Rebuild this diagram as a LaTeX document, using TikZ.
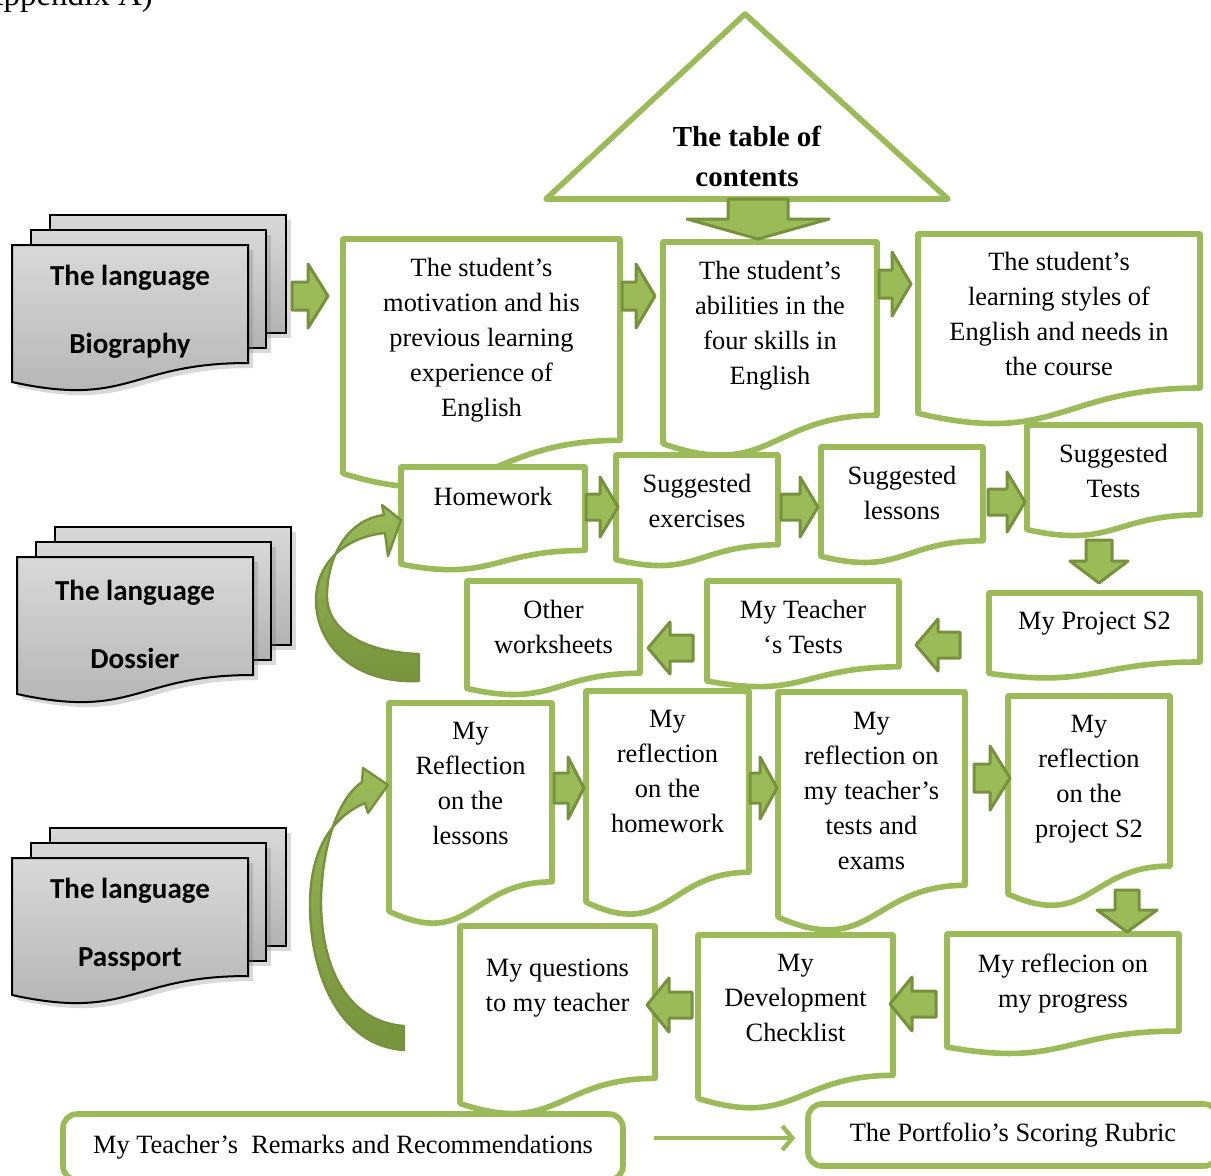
\documentclass[tikz,border=0pt]{standalone}
\usepackage{fontspec}
\setmainfont{Liberation Serif}
\newfontfamily\calibri{Carlito}
\usetikzlibrary{shadows,arrows.meta}
\definecolor{Olivegreen}{RGB}{155,187,89}
\definecolor{Darkolive}{RGB}{118,146,60}

\tikzset{
  docline/.style={draw=Olivegreen, line width=2.8pt, line join=round, fill=white},
  doctext/.style={font=\fontsize{13.2}{17.5}\selectfont, align=center, inner sep=0pt},
  roundbox/.style={draw=Olivegreen, line width=2.8pt, rounded corners=7pt, fill=white, inner sep=0pt, font=\fontsize{13.2}{17.5}\selectfont},
  page/.style={draw=black, line width=1pt, top color=black!15, bottom color=black!30, drop shadow={shadow xshift=2.5pt, shadow yshift=-2.5pt, opacity=.3}},
  pagetext/.style={font=\calibri\bfseries\fontsize{14.5}{34}\selectfont, align=center},
  bandarrow/.style={draw=Darkolive, line width=1.2pt, line join=round, top color=Olivegreen, bottom color=Darkolive},
  thinarrow/.style={draw=Olivegreen, line width=2.2pt, -{Straight Barb[length=5pt,width=12pt]}},
  pics/fatarrow/.style n args={4}{code={
    \draw[draw=Darkolive, fill=Olivegreen, line width=1.5pt, line join=round]
      (0,-#2) -- ({#1-#4},-#2) -- ({#1-#4},-#3) -- (#1,0) -- ({#1-#4},#3) -- ({#1-#4},#2) -- (0,#2) -- cycle;
  }},
}

% green page: name, left, top, right, height, first line, text
\newcommand{\docbox}[7]{%
  \draw[docline] (#2,#3) -- (#4,#3) -- (#4,{#3+0.802*#5})
    .. controls ({(#2+#4)/2},{#3+0.802*#5}) and ({(#2+#4)/2},{#3+1.107*#5}) .. (#2,{#3+0.934*#5}) -- cycle;
  \node[doctext, anchor=north] (#1) at ({(#2+#4)/2},{#6-10}) {#7};
}

% grey stack of three pages: name, left, top of front page, text
\newcommand{\pagestack}[4]{%
  \draw[page] ({#2+38},{#3-30}) rectangle ({#2+274},{#3+88});
  \draw[page] ({#2+19},{#3-15}) rectangle ({#2+254},{#3+103});
  \draw[page] (#2,#3) -- ({#2+236},#3) -- ({#2+236},{#3+118})
    .. controls ({#2+118},{#3+118}) and ({#2+118},{#3+163}) .. (#2,{#3+137}) -- cycle;
  \node[pagetext] (#1) at ({#2+118},{#3+67}) {The language\\#4};
}

\begin{document}
\begin{tikzpicture}[x=0.5pt, y=-0.5pt]
  \useasboundingbox (0,0) rectangle (1211,1175);
  \clip (0,0) rectangle (1211,1175);

  \node[font=\fontsize{16.5}{20}\selectfont, anchor=base east] (appx) at (160,5) {Appendix A)};

  % table of contents
  \draw[docline] (745,14) -- (948,199) -- (546,199) -- cycle;
  \node[font=\bfseries\fontsize{14.5}{20}\selectfont, align=center] (toc) at (747,156) {The table of\\contents};

  % the three portfolio parts
  \pagestack{bio}{12}{245}{Biography}
  \pagestack{dossier}{17}{557}{Dossier}
  \pagestack{passport}{12}{858}{Passport}

  % biography
  \docbox{motiv}{343}{239}{620}{251}{268}{The student’s\\motivation and his\\previous learning\\experience of\\English}
  \docbox{abil}{663}{242}{877}{216}{271}{The student’s\\abilities in the\\four skills in\\English}
  \docbox{styles}{918}{234}{1200}{192}{262}{The student’s\\learning styles of\\English and needs in\\the course}

  % dossier
  \docbox{homework}{401}{467}{585}{104}{497}{Homework}
  \docbox{sugex}{616}{455}{778}{112}{484}{Suggested\\exercises}
  \docbox{suglessons}{821}{447}{983}{117}{476}{Suggested\\lessons}
  \docbox{sugtests}{1027}{425}{1200}{112}{454}{Suggested\\Tests}
  \docbox{project}{989}{593}{1200}{86}{622}{My Project S2}
  \docbox{ttests}{707}{581}{899}{107}{610}{My Teacher\\‘s Tests}
  \docbox{other}{467}{581}{640}{115}{610}{Other\\worksheets}

  % passport
  \docbox{rlessons}{389}{703}{552}{223}{732}{My\\Reflection\\on the\\lessons}
  \docbox{rhomework}{586}{691}{749}{226}{720}{My\\reflection\\on the\\homework}
  \docbox{rtests}{778}{692}{965}{241}{722}{My\\reflection on\\my teacher’s\\tests and\\exams}
  \docbox{rproject}{1008}{696}{1170}{212}{725}{My\\reflection\\on the\\project S2}
  \docbox{progress}{947}{934}{1179}{121}{963}{My reflecion on\\my progress}
  \docbox{checklist}{698}{935}{893}{175}{964}{My\\Development\\Checklist}
  \docbox{questions}{460}{926}{655}{190}{969}{My questions\\to my teacher}

  % block arrows
  \pic[rotate=-90] at (758,199) {fatarrow={40}{30}{71}{20}};
  \pic at (292,296) {fatarrow={36}{14}{32}{20}};
  \pic at (622,296) {fatarrow={33}{14}{32}{19}};
  \pic at (879,284) {fatarrow={32}{14}{32}{19}};
  \pic at (586,507) {fatarrow={32}{13}{30}{18}};
  \pic at (781,507) {fatarrow={37}{13}{30}{18}};
  \pic at (988,502) {fatarrow={37}{13}{30}{18}};
  \pic[rotate=-90] at (1099,540) {fatarrow={43}{13}{29}{22}};
  \pic[rotate=180] at (960,645) {fatarrow={44}{13}{26}{22}};
  \pic[rotate=180] at (693,648) {fatarrow={45}{13}{26}{22}};
  \pic at (554,788) {fatarrow={30}{15}{31}{16}};
  \pic at (750,788) {fatarrow={27}{15}{31}{17}};
  \pic at (974,778) {fatarrow={36}{14}{32}{20}};
  \pic[rotate=-90] at (1127,890) {fatarrow={42}{12}{30}{22}};
  \pic[rotate=180] at (936,1004) {fatarrow={46}{13}{27}{22}};
  \pic[rotate=180] at (692,1005) {fatarrow={45}{13}{27}{22}};

  % curved arrows
  \draw[bandarrow] (419,681) .. controls (355,684) and (316,646) .. (316,600)
    .. controls (316,565) and (343,537) .. (385,533) -- (388,556) -- (401,520) -- (382,505) -- (384,515)
    .. controls (345,520) and (327,560) .. (327,596) .. controls (327,628) and (360,652) .. (419,654) -- cycle;
  \draw[bandarrow] (404,1050) .. controls (340,1046) and (310,975) .. (310,905)
    .. controls (310,852) and (330,818) .. (365,803) -- (368,813) -- (388,785) -- (363,768) -- (362,782)
    .. controls (336,800) and (322,850) .. (321,900) .. controls (321,975) and (352,1022) .. (404,1026) -- cycle;

  % remarks and rubric
  \node[roundbox, minimum width=280pt, minimum height=33pt] (remarks) at (343,1147) {My Teacher’s~ Remarks and Recommendations};
  \node[roundbox, minimum width=205pt, minimum height=31pt] (rubric) at (1013,1135) {The Portfolio’s Scoring Rubric};
  \draw[thinarrow, shorten <=14pt, shorten >=5pt] ([yshift=-1.5pt]remarks.east |- rubric.west) -- ([yshift=-1.5pt]rubric.west);
\end{tikzpicture}
\end{document}
